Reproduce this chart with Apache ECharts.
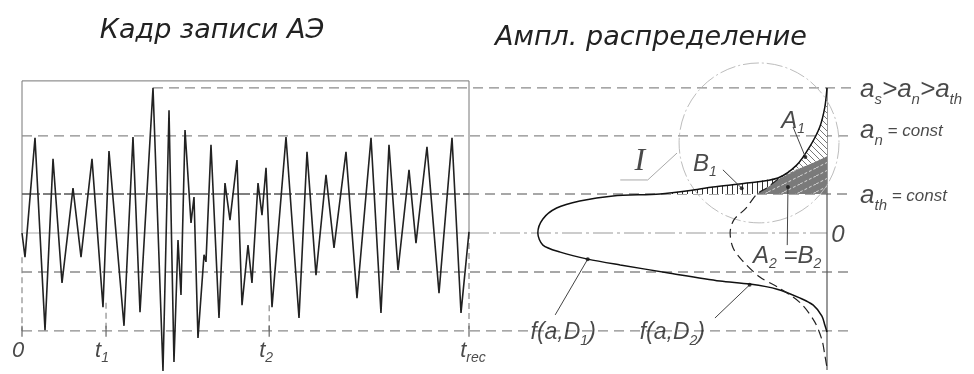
<!DOCTYPE html>
<html><head><meta charset="utf-8">
<script src="https://cdn.jsdelivr.net/npm/echarts@6/dist/echarts.min.js"></script>
<style>html,body{margin:0;padding:0;background:#fff}#c{width:974px;height:374px}</style>
</head><body><div id="c"></div>
<script>
// ================= DATA =================
// time axis (left panel): 0 .. T_REC
const T_REC = 100, T1 = 18.8, T2 = 55.3;
const tickTimes = [0, T1, T2, T_REC];
const tickLabels = ['{m|0}', '{m|t}{s|1}', '{m|t}{s|2}', '{m|t}{s|rec}'];
const tickLabelDx = [-4, -4, -3, 4];

// AE record frame (signal), amplitude in units of a_th
const signalT = [0,0.67,2.91,5.15,6.94,8.95,11.41,13.20,15.66,18.12,19.46,22.82,24.83,26.40,29.31,31.54,32.89,34.00,34.90,35.57,36.47,37.81,38.48,39.37,40.72,41.16,42.28,44.07,45.41,46.53,48.10,49.22,50.56,51.45,52.80,53.69,54.59,55.93,59.06,61.97,63.76,65.77,68.01,69.80,72.48,74.94,78.08,80.31,82.10,84.12,86.58,88.14,90.60,93.29,96.20,98.21,100];
const signalA = [0,-0.62,2.44,-2.49,1.90,-1.28,1.15,-0.62,1.90,-1.90,2.10,-2.38,2.46,-2.03,3.72,-3.54,3.15,-3.31,-0.18,-1.59,2.64,0.26,0.92,-2.69,-0.56,-0.74,2.26,-2.18,1.28,0.33,1.87,-1.85,-0.31,-1.28,1.28,0.46,1.67,-1.90,2.46,-2.18,2.08,-1.08,1.49,-0.38,2.08,-1.67,2.44,-2.05,2.26,-0.95,1.62,-0.26,2.21,-1.54,2.44,-2.05,0.03];

// amplitude levels
const A_S = 3.72, A_N = 2.49, A_TH = 1.0, A_ZERO = 0, A_LOW = -1.0, A_BOT = -2.51, BOX_TOP = 3.9;
const levelValues = [A_S, A_N, A_TH];
const levelLabels = ['{m|a}{s|s}{m|>a}{s|n}{m|>a}{s|th}', '{m|a}{s|n}{c| = const}', '{m|a}{s|th}{c| = const}'];
const levelLabelDy = [2, -5, 2];

// amplitude distributions (density, amplitude)
const d1Dens = [0,0.003,0.010,0.024,0.042,0.068,0.111,0.158,0.185,0.231,0.296,0.342,0.374,0.393,0.400,0.393,0.369,0.331,0.286,0.217,0.148,0.107,0.069,0.037,0.019,0.007,0.003,0];
const d1Amp  = [3.72,3.23,2.72,2.21,1.74,1.41,1.28,1.18,1.10,1.00,0.95,0.82,0.64,0.36,0,-0.31,-0.49,-0.67,-0.82,-1.03,-1.23,-1.31,-1.44,-1.67,-1.85,-2.13,-2.36,-2.54];
const d2Dens = [0,0.021,0.044,0.068,0.084,0.097,0.112,0.129,0.134,0.130,0.118,0.093,0.069,0.037,0.017,0.007,0.003,0];
const d2Amp  = [1.97,1.79,1.62,1.38,1.15,1.00,0.64,0.33,0,-0.38,-0.69,-1.13,-1.38,-1.79,-2.28,-2.74,-3.13,-3.46];
const D1_TOUCH = 5, D1_CROSS = 9, D2_TOUCH = 3, D2_CROSS = 5;
const AXIS_BOTTOM = -3.51;

// circle I
const circleCenter = [0.094, 2.31], circleRadius = 2.05;

// annotations in the distribution panel
const rightLabelText = ['{m|A}{s|1}', '{m|B}{s|1}', '{m|A}{s|2}{m| =B}{s|2}', '{m|f(a,D}{s|1}{m|)}', '{m|f(a,D}{s|2}{m|)}', '{m|0}', '{i|I}'];
const rightLabelDens = [0.047, 0.169, 0.055, 0.365, 0.214, -0.015, 0.259];
const rightLabelAmp  = [2.87, 1.77, -0.59, -2.56, -2.56, -0.05, 1.82];
const leaders = [
  [[0.047,2.72],[0.030,1.95]],
  [[0.144,1.62],[0.118,1.15]],
  [[0.055,-0.31],[0.054,1.18]],
  [[0.376,-2.10],[0.331,-0.67]],
  [[0.155,-2.18],[0.107,-1.33]]
];
const leaderI = [[0.286,1.36],[0.248,1.36],[0.2075,2.05]];

const titles = ['Кадр записи АЭ', 'Ампл. распределение'];

// ================= LAYOUT =================
const Y_MIN = -3.6, Y_MAX = 4.0;
const G0 = {left: 22, top: 77, width: 831, height: 296.4};
const BOX_RIGHT_PX = 469, AXIS_PX = 827;
const X_MAX = T_REC * G0.width / (BOX_RIGHT_PX - G0.left);
const AXIS_T = T_REC * (AXIS_PX - G0.left) / (BOX_RIGHT_PX - G0.left);
const G1 = {left: AXIS_PX - 300, top: 77, width: 300, height: 296.4};
const DENS_MAX = 0.415;

const LBL_FONT = '"Liberation Sans", Arial, sans-serif';
const TXT = '#1c1c1c';
function richSet(m, s, c) {
  return {
    m: {fontSize: m, fontStyle: 'italic', fontFamily: LBL_FONT, color: TXT, lineHeight: Math.round(m * 1.3)},
    s: {fontSize: s, fontStyle: 'italic', fontFamily: LBL_FONT, color: TXT, lineHeight: s, verticalAlign: 'bottom'},
    c: {fontSize: c, fontStyle: 'italic', fontFamily: LBL_FONT, color: TXT, lineHeight: Math.round(m * 1.3)},
    i: {fontSize: 32, fontStyle: 'italic', fontFamily: '"Liberation Serif", serif', color: TXT, lineHeight: 36}
  };
}

// patterns
function makePattern(w, h, draw) {
  const cv = document.createElement('canvas'); cv.width = w; cv.height = h;
  const ctx = cv.getContext('2d'); draw(ctx, w, h);
  return {image: cv, repeat: 'repeat'};
}
const patA1 = makePattern(6, 6, (ctx, w, h) => {
  ctx.fillStyle = '#fff'; ctx.fillRect(0, 0, w, h);
  ctx.strokeStyle = '#777'; ctx.lineWidth = 1;
  for (const k of [-w, 0, w]) { ctx.beginPath(); ctx.moveTo(k, 0); ctx.lineTo(k + w, h); ctx.stroke(); }
});
const patB1 = makePattern(5, 5, (ctx, w, h) => {
  ctx.fillStyle = '#fff'; ctx.fillRect(0, 0, w, h);
  ctx.strokeStyle = '#333'; ctx.lineWidth = 1;
  ctx.beginPath(); ctx.moveTo(2.5, 0); ctx.lineTo(2.5, h); ctx.stroke();
});
const patA2 = makePattern(16, 8, (ctx, w, h) => {
  ctx.fillStyle = '#7a7a7a'; ctx.fillRect(0, 0, w, h);
  ctx.strokeStyle = '#d8d8d8'; ctx.lineWidth = 1; ctx.setLineDash([3, 2]);
  ctx.beginPath(); ctx.moveTo(0, h); ctx.lineTo(w, 0); ctx.stroke();
});

// ================= SERIES =================
const series = [];
function seg(pts, color, width, type, grid) {
  series.push({type: 'line', xAxisIndex: grid || 0, yAxisIndex: grid || 0, data: pts, symbol: 'none',
    silent: true, lineStyle: {color, width, type: type || 'solid'}, z: 2});
}
const DASH = [10, 6], GRAY = '#8a8a8a';
// box
seg([[0, A_ZERO], [0, BOX_TOP], [T_REC, BOX_TOP], [T_REC, A_ZERO]], '#777', 1);
// levels
seg([[signalT[signalA.indexOf(A_S)], A_S], [X_MAX, A_S]], GRAY, 1.4, DASH);
seg([[0, A_N], [X_MAX, A_N]], GRAY, 1.4, DASH);
seg([[0, A_TH], [T_REC, A_TH]], '#555', 1.4, [18, 3]);
seg([[T_REC, A_TH], [X_MAX, A_TH]], GRAY, 1.4, DASH);
seg([[0, A_ZERO], [T_REC, A_ZERO]], '#aaa', 1);
seg([[T_REC, A_ZERO], [AXIS_T, A_ZERO]], '#999', 1, [20, 4, 3, 4]);
seg([[0, A_LOW], [X_MAX, A_LOW]], GRAY, 1.4, DASH);
seg([[0, A_BOT], [X_MAX, A_BOT]], GRAY, 1.4, DASH);
// time markers
seg([[0, signalA[1]], [0, A_BOT]], GRAY, 1.2, [6, 4]);
seg([[T1, -1.79], [T1, A_BOT]], GRAY, 1.2, [6, 4]);
seg([[T2, -1.85], [T2, A_BOT]], GRAY, 1.2, [6, 4]);
seg([[T_REC, A_ZERO], [T_REC, A_BOT]], GRAY, 1.2, [6, 4]);
tickTimes.forEach(t => seg([[t, -2.38], [t, -2.66]], '#666', 1.2));

// signal
series.push({type: 'line', xAxisIndex: 0, yAxisIndex: 0, data: signalT.map((t, i) => [t, signalA[i]]),
  symbol: 'none', silent: true, lineStyle: {color: '#222', width: 1.6}, z: 5});

// regions
const P = (dens, amp, i) => [dens[i], amp[i]];
const polyA2 = [[0, A_TH]];
for (let i = 0; i <= D2_CROSS; i++) polyA2.push(P(d2Dens, d2Amp, i));
const polyA1 = [];
for (let i = 0; i <= D1_TOUCH; i++) polyA1.push(P(d1Dens, d1Amp, i));
for (let i = D2_TOUCH; i >= 0; i--) polyA1.push(P(d2Dens, d2Amp, i));
const polyB1 = [];
for (let i = D1_TOUCH; i <= D1_CROSS; i++) polyB1.push(P(d1Dens, d1Amp, i));
for (let i = D2_CROSS; i >= D2_TOUCH; i--) polyB1.push(P(d2Dens, d2Amp, i));
const regions = [[polyA2, patA2], [polyA1, patA1], [polyB1, patB1]];
series.push({type: 'custom', xAxisIndex: 1, yAxisIndex: 1, clip: false, silent: true, z: 3,
  data: regions.map((r, i) => [i]),
  renderItem: (params, api) => {
    const r = regions[params.dataIndex];
    return {type: 'polygon', shape: {points: r[0].map(p => api.coord(p))}, style: {fill: r[1], stroke: null}};
  }});

// density axis
seg([[0, A_S], [0, AXIS_BOTTOM]], '#555', 1.2, 'solid', 1);
// distributions
series.push({type: 'line', xAxisIndex: 1, yAxisIndex: 1, data: d1Dens.map((d, i) => [d, d1Amp[i]]),
  symbol: 'none', smooth: 0.3, silent: true, lineStyle: {color: '#111', width: 1.5}, z: 6});
series.push({type: 'line', xAxisIndex: 1, yAxisIndex: 1,
  data: d2Dens.map((d, i) => [d, d2Amp[i]]).slice(D2_TOUCH),
  symbol: 'none', smooth: 0.3, silent: true, lineStyle: {color: '#222', width: 1.2, type: [9, 5]}, z: 6});

// circle I
series.push({type: 'custom', xAxisIndex: 1, yAxisIndex: 1, clip: false, silent: true, z: 4,
  data: [circleCenter],
  renderItem: (params, api) => {
    const c = api.coord([api.value(0), api.value(1)]);
    const r = api.size([0, circleRadius])[1];
    return {type: 'circle', shape: {cx: c[0], cy: c[1], r}, style: {fill: null, stroke: '#bdbdbd', lineWidth: 1, lineDash: [16, 3, 2, 3]}};
  }});
// leaders
const allLeaders = leaders.map(l => [l, '#444']).concat([[leaderI, '#aaa']]);
series.push({type: 'custom', xAxisIndex: 1, yAxisIndex: 1, clip: false, silent: true, z: 7,
  data: allLeaders.map((l, i) => [i]),
  renderItem: (params, api) => {
    const l = allLeaders[params.dataIndex];
    return {type: 'polyline', shape: {points: l[0].map(p => api.coord(p))}, style: {stroke: l[1], lineWidth: 1, fill: null}};
  }});
series.push({type: 'scatter', xAxisIndex: 1, yAxisIndex: 1, silent: true, z: 8, clip: false,
  data: leaders.map(l => l[l.length - 1]), symbolSize: 4, itemStyle: {color: '#111'}});

// labels – right panel
series.push({type: 'scatter', xAxisIndex: 1, yAxisIndex: 1, silent: true, z: 9, symbolSize: 0, clip: false,
  data: rightLabelText.map((t, i) => ({value: [rightLabelDens[i], rightLabelAmp[i]],
    label: {show: true, position: 'inside', formatter: t, rich: richSet(i >= 3 && i <= 4 ? 23 : 24, 14, 15)}}))});
// level labels
series.push({type: 'scatter', xAxisIndex: 0, yAxisIndex: 0, silent: true, z: 9, symbolSize: 0, clip: false,
  data: levelValues.map((v, i) => ({value: [X_MAX, v],
    label: {show: true, position: 'right', distance: 7, offset: [0, levelLabelDy[i]], formatter: levelLabels[i], rich: richSet(26, 15, 17)}}))});
// time labels
series.push({type: 'scatter', xAxisIndex: 0, yAxisIndex: 0, silent: true, z: 9, symbolSize: 0, clip: false,
  data: tickTimes.map((t, i) => ({value: [t, -3.02],
    label: {show: true, position: 'inside', offset: [tickLabelDx[i], 0], formatter: tickLabels[i], rich: richSet(22, 14, 14)}}))});

const option = {
  animation: false,
  backgroundColor: '#fff',
  grid: [
    {left: G0.left, top: G0.top, width: G0.width, height: G0.height},
    {left: G1.left, top: G1.top, width: G1.width, height: G1.height}
  ],
  xAxis: [
    {type: 'value', gridIndex: 0, min: 0, max: X_MAX, show: false},
    {type: 'value', gridIndex: 1, min: 0, max: DENS_MAX, inverse: true, show: false}
  ],
  yAxis: [
    {type: 'value', gridIndex: 0, min: Y_MIN, max: Y_MAX, show: false},
    {type: 'value', gridIndex: 1, min: Y_MIN, max: Y_MAX, show: false}
  ],
  graphic: [
    {type: 'text', x: 212, y: 31, style: {text: titles[0], font: 'italic 27px "DejaVu Sans", sans-serif', fill: '#222', align: 'center', verticalAlign: 'middle'}},
    {type: 'text', x: 651, y: 38, style: {text: titles[1], font: 'italic 27px "DejaVu Sans", sans-serif', fill: '#222', align: 'center', verticalAlign: 'middle'}}
  ],
  series
};
const chart = echarts.init(document.getElementById('c'), null, {renderer: 'canvas'});
chart.setOption(option);
</script></body></html>
